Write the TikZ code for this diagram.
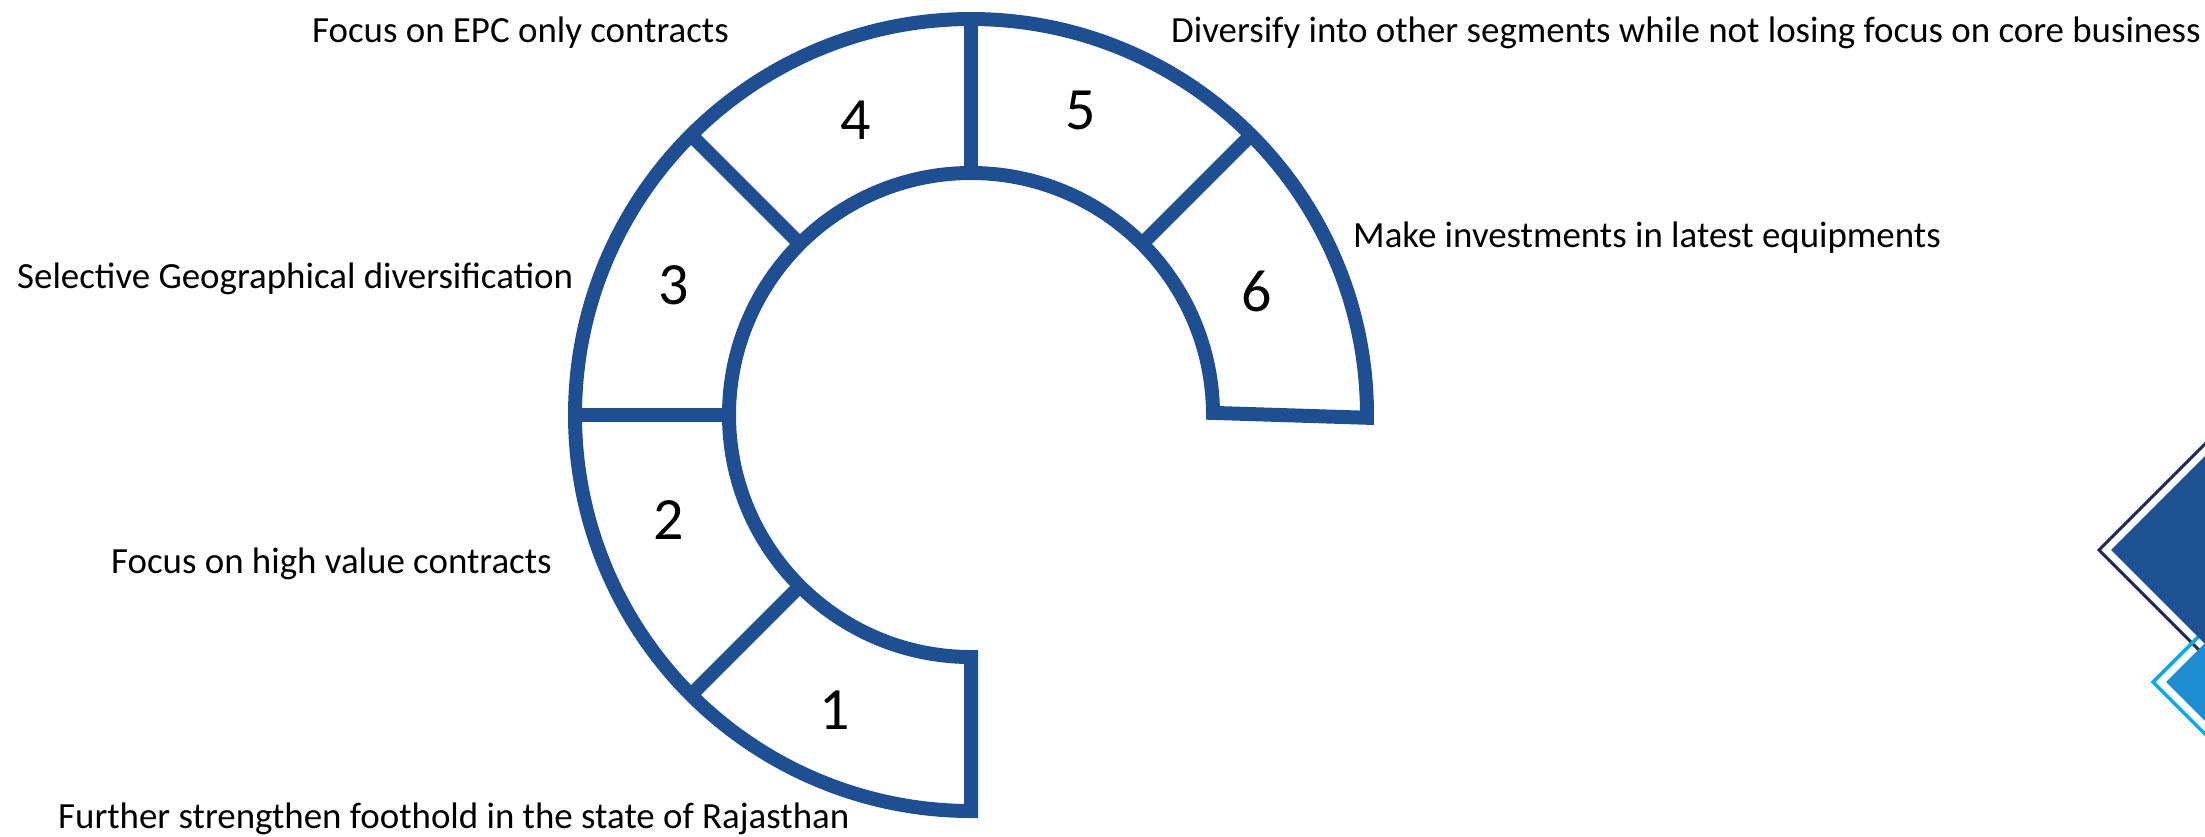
\documentclass[tikz,border=0pt]{standalone}
\usepackage{fontspec}
\setmainfont{Carlito}
\usetikzlibrary{calc}
\definecolor{ringblue}{HTML}{1F4F93}
\definecolor{navyline}{HTML}{1F2A5E}
\definecolor{darkfill}{HTML}{1E5094}
\definecolor{cyanline}{HTML}{00AEEF}
\definecolor{lightfill}{HTML}{1E8CD0}
\tikzset{
  ring/.style={draw=ringblue, line width=14pt, line join=miter},
  numlbl/.style={inner sep=0pt, anchor=center, font=\fontsize{60}{72}\selectfont},
  txtlbl/.style={inner sep=0pt, anchor=base west, font=\fontsize{36.9}{44}\selectfont},
}
\begin{document}
\begin{tikzpicture}[x=1pt,y=-1pt]
\useasboundingbox (0,0) rectangle (2205,836);
% decorative diamonds (right edge)
\begin{scope}
\clip (0,0) rectangle (2205,836);
\draw[navyline, line width=3pt] (2099,550) -- ++(220,-220) -- ++(220,220) -- ++(-220,220) -- cycle;
\draw[cyanline, line width=3.5pt] (2153,682) -- ++(120,-120) -- ++(120,120) -- ++(-120,120) -- cycle;
\fill[darkfill] (2111,550) -- ++(208,-208) -- ++(208,208) -- ++(-208,208) -- cycle;
\fill[lightfill] (2166,682) -- ++(107,-107) -- ++(107,107) -- ++(-107,107) -- cycle;
\end{scope}
% ring
\coordinate (c) at (971,415);
\draw[ring] ($(c)+(360.4:396)$) arc[start angle=360.4, end angle=90, radius=396]
  -- ($(c)+(90:242)$) arc[start angle=90, end angle=359.5, radius=242] -- cycle;
\foreach \a in {135,180,225,270,315}
  \draw[ring] ($(c)+(\a:242)$) -- ($(c)+(\a:396)$);
% numbers
\node[numlbl] (n1) at (835,710) {1};
\node[numlbl] (n2) at (669,520) {2};
\node[numlbl] (n3) at (674,285) {3};
\node[numlbl] (n4) at (856,120) {4};
\node[numlbl] (n5) at (1081,110) {5};
\node[numlbl] (n6) at (1257,291) {6};
% labels
\node[txtlbl] (l1) at (58,828) {Further strengthen foothold in the state of Rajasthan};
\node[txtlbl] (l2) at (111,573) {Focus on high value contracts};
\node[txtlbl] (l3) at (17,288) {Selective Geographical diversification};
\node[txtlbl] (l4) at (312,42) {Focus on EPC only contracts};
\node[txtlbl] (l5) at (1171,42) {Diversify into other segments while not losing focus on core business};
\node[txtlbl] (l6) at (1353,247) {Make investments in latest equipments};
\end{tikzpicture}
\end{document}
